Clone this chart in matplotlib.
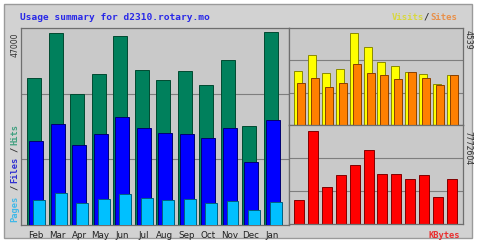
import matplotlib
matplotlib.use("Agg")
import matplotlib.pyplot as plt
from matplotlib.patches import Rectangle
import numpy as np

months = ["Feb", "Mar", "Apr", "May", "Jun", "Jul", "Aug", "Sep", "Oct", "Nov", "Dec", "Jan"]
hits = [35800, 46760, 31900, 36770, 46030, 37750, 35310, 37500, 34090, 40180, 24110, 47000]
files = [20460, 24600, 19480, 22160, 26300, 23620, 22400, 22160, 21190, 23620, 15340, 25570]
pages = [6090, 7790, 5360, 6330, 7550, 6580, 6090, 6330, 5360, 5840, 3650, 5600]
visits = [2664, 3454, 2566, 2763, 4539, 3848, 3108, 2911, 2620, 2516, 2023, 2480]
sites = [2072, 2319, 1875, 2072, 3010, 2566, 2467, 2270, 2600, 2319, 1974, 2467]
kbytes = [2005833, 7772604, 3092326, 4095241, 4931008, 6184673, 4178819, 4178819,
          3760937, 4095241, 2256563, 3760937]

title = "Usage summary for d2310.rotary.mo"
max_hits_label = "47000"
max_visits_label = "4539"
max_kb_label = "7772604"

W, H = 479, 241
fig = plt.figure(figsize=(W / 100, H / 100), dpi=100)
fig.patch.set_facecolor("white")

def fr(x0, y0, x1, y1):
    return [x0 / W, 1 - y1 / H, (x1 - x0) / W, (y1 - y0) / H]

# outer frame on a background axes
bg = fig.add_axes([0, 0, 1, 1], zorder=-5)
bg.set_xlim(0, W)
bg.set_ylim(H, 0)
bg.axis("off")
bg.add_patch(Rectangle((4, 4), 468, 234, facecolor="#d2d2d2", edgecolor="#9a9a9a", lw=1.0))

panel_bg = "#c9c9c9"
grid_c = "#7e7e7e"
spine_c = "#6e6e6e"

def style(ax):
    ax.set_facecolor(panel_bg)
    ax.set_xticks([])
    ax.set_yticks([])
    for s in ax.spines.values():
        s.set_color(spine_c)
        s.set_linewidth(0.9)

x = np.arange(len(months))

# Left panel: hits / files / pages
axL = fig.add_axes(fr(21, 28, 289, 225), zorder=1)
style(axL)
sp = 21.5
axL.set_xlim((21 - 27) / sp, (289 - 27) / sp)
topL = max(hits) * 197 / 193
axL.set_ylim(0, topL)
for f in (1 / 3, 2 / 3):
    axL.axhline(topL * f, color=grid_c, lw=0.8, zorder=0.5)
axL.bar(x, hits, width=14 / sp, align="edge", color="#00805c", edgecolor="#004a30", lw=0.7, zorder=2)
axL.bar(x + 2 / sp, files, width=14 / sp, align="edge", color="#0000ff", edgecolor="#000070", lw=0.7, zorder=3)
axL.bar(x + 6 / sp, pages, width=12 / sp, align="edge", color="#00c0ff", edgecolor="#006080", lw=0.7, zorder=4)
for i, m in enumerate(months):
    axL.text(i + 9 / sp, -10 / 197 * topL, m, ha="center", va="center", fontsize=6.3,
             color="#202020", family="DejaVu Sans", clip_on=False)

# Right top: visits / sites
axT = fig.add_axes(fr(289, 28, 463, 125), zorder=1)
style(axT)
sp2 = 13.9
axT.set_xlim((289 - 294) / sp2, (463 - 294) / sp2)
topT = max(visits) * 97 / 92
axT.set_ylim(0, topT)
for f in (1 / 3, 2 / 3):
    axT.axhline(topT * f, color=grid_c, lw=0.8, zorder=0.5)
axT.bar(x, visits, width=8 / sp2, align="edge", color="#ffff00", edgecolor="#8a8a00", lw=0.7, zorder=2)
axT.bar(x + 3 / sp2, sites, width=8 / sp2, align="edge", color="#ff8000", edgecolor="#8a4000", lw=0.7, zorder=3)

# Right bottom: kbytes
axB = fig.add_axes(fr(289, 125, 463, 224), zorder=1)
style(axB)
axB.set_xlim((289 - 294) / sp2, (463 - 294) / sp2)
topB = max(kbytes) * 99 / 93
axB.set_ylim(0, topB)
for f in (1 / 3, 2 / 3):
    axB.axhline(topB * f, color=grid_c, lw=0.8, zorder=0.5)
axB.bar(x, kbytes, width=10 / sp2, align="edge", color="#ff0000", edgecolor="#800000", lw=0.7, zorder=2)

# Texts
fig.text(20 / W, 1 - 17 / H, title, ha="left", va="center", fontsize=6.8, color="#2828e8",
         family="DejaVu Sans Mono", fontweight="bold")

fs = 6.5
fig.text(392 / W, 1 - 17 / H, "Visits", ha="left", va="center", fontsize=fs, color="#d8d840",
         family="DejaVu Sans Mono", fontweight="bold")
fig.text(424 / W, 1 - 17 / H, "/", ha="left", va="center", fontsize=fs, color="#303030",
         family="DejaVu Sans Mono", fontweight="bold")
fig.text(430 / W, 1 - 17 / H, "Sites", ha="left", va="center", fontsize=fs, color="#e8904a",
         family="DejaVu Sans Mono", fontweight="bold")

fig.text(15 / W, 1 - 45 / H, max_hits_label, rotation=90, ha="center", va="center", fontsize=5.6,
         color="#303030", family="DejaVu Sans")
lab_parts = [("Pages", "#40b8e8"), ("/", "#303030"), ("Files", "#3030d0"),
             ("/", "#303030"), ("Hits", "#40a080")]
y_cursor = 222
for txt, col in lab_parts:
    fig.text(15 / W, 1 - y_cursor / H, txt, rotation=90, ha="center", va="bottom",
             fontsize=6.3, color=col, family="DejaVu Sans Mono", fontweight="bold")
    y_cursor -= len(txt) * 6.1 + 1

fig.text(468 / W, 1 - 40 / H, max_visits_label, rotation=270, ha="center", va="center", fontsize=5.6,
         color="#303030", family="DejaVu Sans")
fig.text(468 / W, 1 - 148 / H, max_kb_label, rotation=270, ha="center", va="center", fontsize=5.6,
         color="#303030", family="DejaVu Sans")
fig.text(460 / W, 1 - 235 / H, "KBytes", ha="right", va="center", fontsize=6.3, color="#e83030",
         family="DejaVu Sans Mono", fontweight="bold")

fig.savefig("out.png", dpi=100, facecolor=fig.get_facecolor())
